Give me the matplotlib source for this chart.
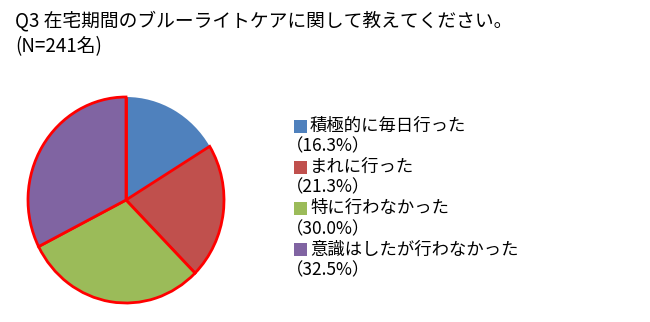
import matplotlib
matplotlib.use("Agg")
import matplotlib.pyplot as plt
from matplotlib.patches import Rectangle

plt.rcParams['font.family'] = ['Noto Sans CJK JP', 'DejaVu Sans']

# データ
labels = ["積極的に毎日行った", "まれに行った", "特に行わなかった", "意識はしたが行わなかった"]
shares = [16.3, 21.3, 30.0, 32.5]
colors = ["#4F81BD", "#C0504D", "#9BBB59", "#8064A2"]
title_lines = ["Q3 在宅期間のブルーライトケアに関して教えてください。", "(N=241名)"]

W, H = 650, 322
fig = plt.figure(figsize=(W / 100, H / 100), dpi=100)
fig.patch.set_facecolor("white")

# タイトル
fig.text(15 / W, 1 - 21 / H, title_lines[0], fontsize=13.5, va="center", ha="left")
fig.text(15 / W, 1 - 47 / H, title_lines[1], fontsize=13.5, va="center", ha="left")

# 円グラフ
ax = fig.add_axes([28 / W, 19 / H, 196 / W, 206 / H])
wedges, _ = ax.pie(shares, colors=colors, startangle=90, counterclock=False,
                   wedgeprops=dict(edgecolor="#FF0000", linewidth=2))
wedges[0].set_edgecolor("none")
ax.set_aspect("auto")
ax.set_xlim(-1, 1)
ax.set_ylim(-1, 1)
ax.axis("off")
# 青の区切り線（赤）を上に描き直す
ax.plot([0, 0], [0, 1], color="#FF0000", lw=2, zorder=5, solid_capstyle="butt")

# 凡例
y0 = 126
step = 20.6
for i, (lab, val, col) in enumerate(zip(labels, shares, colors)):
    y1 = y0 + step * (2 * i)
    y2 = y0 + step * (2 * i + 1)
    fig.patches.append(Rectangle((294 / W, 1 - (y1 + 6.5) / H), 13 / W, 13 / H,
                                 transform=fig.transFigure, facecolor=col,
                                 edgecolor="none"))
    fig.text(310 / W, 1 - y1 / H, lab, fontsize=12.5, va="center", ha="left")
    fig.text(286 / W, 1 - y2 / H, f"（{val:.1f}%）", fontsize=12.5, va="center", ha="left")

fig.savefig("out.png", dpi=100, facecolor="white")
